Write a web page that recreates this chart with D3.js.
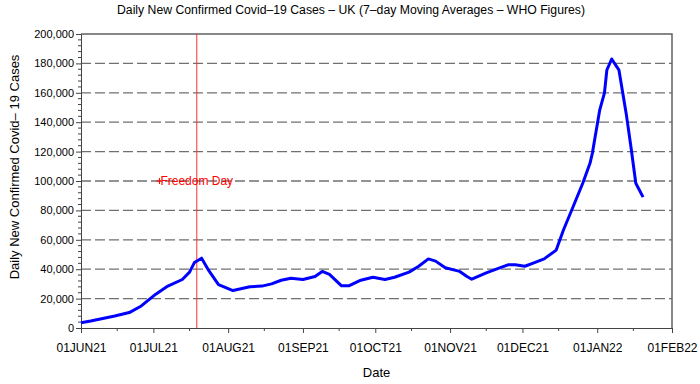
<!DOCTYPE html>
<html>
<head>
<meta charset="utf-8">
<script src="https://cdn.jsdelivr.net/npm/d3@7"></script>
<style>
body { margin: 0; background: #fff; }
svg { display: block; }
text { font-family: "Liberation Sans", Arial, sans-serif; }
</style>
</head>
<body>
<div id="chart"></div>
<script>
var dates = ["2021-06-01","2021-06-05","2021-06-10","2021-06-15","2021-06-21","2021-06-26","2021-07-02","2021-07-07","2021-07-13","2021-07-16","2021-07-18","2021-07-21","2021-07-24","2021-07-28","2021-08-03","2021-08-10","2021-08-15","2021-08-19","2021-08-23","2021-08-27","2021-09-01","2021-09-06","2021-09-09","2021-09-12","2021-09-17","2021-09-20","2021-09-25","2021-09-30","2021-10-05","2021-10-09","2021-10-15","2021-10-19","2021-10-23","2021-10-26","2021-10-30","2021-11-05","2021-11-08","2021-11-10","2021-11-16","2021-11-21","2021-11-25","2021-11-28","2021-12-02","2021-12-06","2021-12-10","2021-12-15","2021-12-18","2021-12-22","2021-12-26","2021-12-29","2021-12-30","2022-01-02","2022-01-04","2022-01-05","2022-01-07","2022-01-09","2022-01-10","2022-01-13","2022-01-15","2022-01-17","2022-01-20"];
var cases = [3600,4800,6500,8200,10500,15000,23000,28500,33000,38000,44500,47500,39000,29500,25500,28000,28500,30000,32500,33800,33000,35000,38500,36500,28700,28700,32500,34500,33000,34500,38000,42000,47000,45500,41000,38500,35000,33200,37500,40500,43000,43000,42000,44500,47000,53000,66700,82500,98500,112000,119000,148000,160000,175500,183000,178000,175500,146000,123000,98500,89000];

var yTicks = [0,20000,40000,60000,80000,100000,120000,140000,160000,180000,200000];
var xTickLabels = ["01JUN21","01JUL21","01AUG21","01SEP21","01OCT21","01NOV21","01DEC21","01JAN22","01FEB22"];
var eventDate = "2021-07-19";
var eventLabel = "Freedom Day";
var eventLevel = 100000;

var width = 700, height = 384;
var margin = {top: 34, right: 28, bottom: 56, left: 81};
var w = width - margin.left - margin.right, h = height - margin.top - margin.bottom;

var parse = d3.timeParse("%Y-%m-%d");
var labelParse = d3.timeParse("%d%b%y");
var tickDates = xTickLabels.map(function(s) { return labelParse(s.slice(0,3) + s.slice(3,5).toLowerCase() + s.slice(5)); });
var data = dates.map(function(d, i) { return {date: parse(d), value: cases[i]}; });

var x = d3.scaleTime().domain([tickDates[0], tickDates[tickDates.length - 1]]).range([0, w]);
var y = d3.scaleLinear().domain([0, 200000]).range([h, 0]);

var svg = d3.select("#chart").append("svg").attr("width", width).attr("height", height);
var g = svg.append("g").attr("transform", "translate(" + margin.left + "," + margin.top + ")");

// title
svg.append("text").attr("x", 351).attr("y", 14).attr("text-anchor", "middle")
  .style("font-size", "12px").attr("fill", "#000")
  .attr("textLength", 468).attr("lengthAdjust", "spacingAndGlyphs")
  .text("Daily New Confirmed Covid\u201319 Cases  \u2013  UK (7\u2013day Moving Averages  \u2013  WHO Figures)");

// gridlines
g.selectAll(".grid").data(yTicks.filter(function(v) { return v > 0 && v < 200000; })).enter()
  .append("line").attr("x1", 0).attr("x2", w)
  .attr("y1", function(d) { return y(d); }).attr("y2", function(d) { return y(d); })
  .attr("stroke", "#707070").attr("stroke-width", 1.3).attr("stroke-dasharray", "10,4");

// frame top/right
g.append("path").attr("d", "M0,0H" + w + "V" + h).attr("fill", "none").attr("stroke", "#606060").attr("stroke-width", 1.5);

// y axis
var minorY = d3.range(0, 200001, 4000).filter(function(v) { return v % 20000 !== 0; });
g.selectAll(".ymin").data(minorY).enter().append("line")
  .attr("x1", -3).attr("x2", 0).attr("y1", function(d) { return y(d); }).attr("y2", function(d) { return y(d); })
  .attr("stroke", "#444");
var yAxis = g.append("g").call(d3.axisLeft(y).tickValues(yTicks).tickSize(5).tickPadding(2).tickFormat(d3.format(",")));
yAxis.select(".domain").attr("stroke", "#444");
yAxis.selectAll(".tick line").attr("stroke", "#444");
yAxis.selectAll("text").style("font-size", "11px").style("font-family", null).attr("fill", "#000");

// x axis
var minorX = tickDates.slice(0, -1).map(function(d) { return d3.timeDay.offset(d, 15); });
g.selectAll(".xmin").data(minorX).enter().append("line")
  .attr("x1", function(d) { return x(d); }).attr("x2", function(d) { return x(d); })
  .attr("y1", h).attr("y2", h + 3).attr("stroke", "#444");
var xAxis = g.append("g").attr("transform", "translate(0," + h + ")")
  .call(d3.axisBottom(x).tickValues(tickDates).tickSize(5).tickPadding(10).tickFormat(function(d, i) { return xTickLabels[i]; }));
xAxis.select(".domain").attr("stroke", "#444");
xAxis.selectAll(".tick line").attr("stroke", "#444");
xAxis.selectAll("text").style("font-size", "12px").style("font-family", null).attr("fill", "#000");

// axis titles
svg.append("text").attr("x", margin.left + w / 2).attr("y", 377).attr("text-anchor", "middle")
  .style("font-size", "13px").text("Date");
svg.append("text").attr("transform", "translate(19,167) rotate(-90)")
  .attr("text-anchor", "middle").style("font-size", "13px").text("Daily New Confirmed Covid\u2013 19 Cases");

// event line
var ex = x(parse(eventDate));
g.append("line").attr("x1", ex).attr("x2", ex).attr("y1", 0).attr("y2", h)
  .attr("stroke", "#ff3030").attr("stroke-width", 1);

// data line
g.append("path").datum(data).attr("fill", "none").attr("stroke", "#0000ff").attr("stroke-width", 3)
  .attr("stroke-linejoin", "round")
  .attr("d", d3.line().x(function(d) { return x(d.date); }).y(function(d) { return y(d.value); }));

// event label
var lbl = g.append("text").attr("x", ex).attr("y", y(eventLevel) + 4).attr("text-anchor", "middle")
  .style("font-size", "12px").attr("fill", "#ff0000").text(eventLabel);
var lw = lbl.node().getComputedTextLength();
var px = ex - lw / 2 - 1, py = y(eventLevel);
g.append("path").attr("d", "M" + (px - 3) + "," + py + "H" + (px + 3) + "M" + px + "," + (py - 3) + "V" + (py + 3))
  .attr("stroke", "#ff0000").attr("stroke-width", 1);
</script>
</body>
</html>
